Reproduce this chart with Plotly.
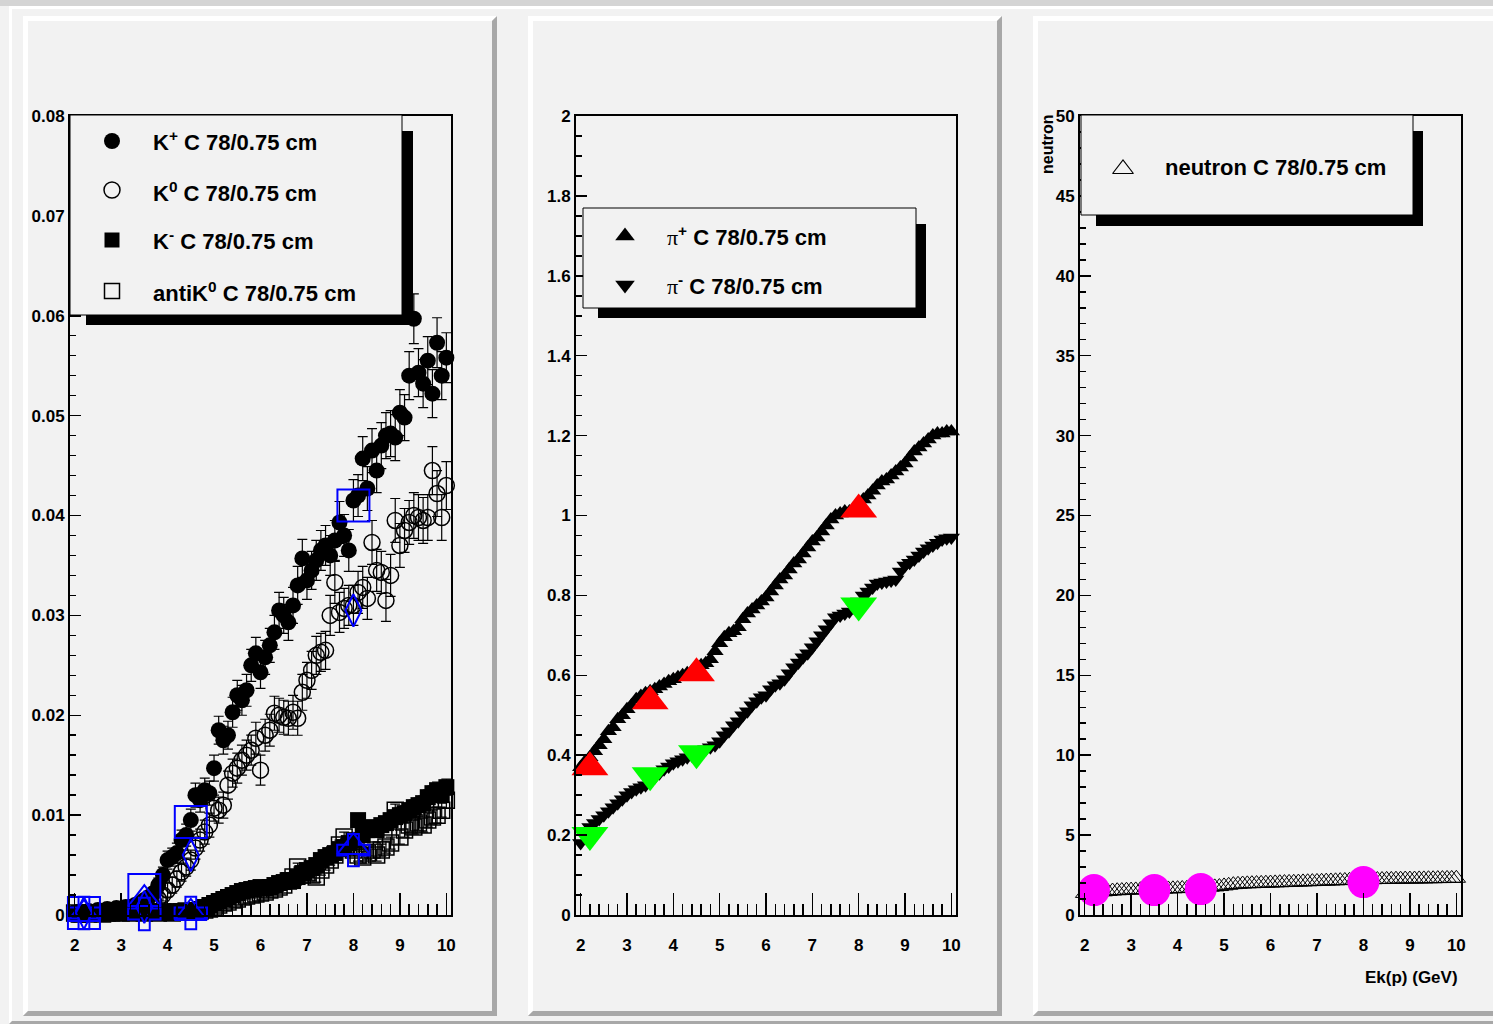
import plotly.graph_objects as go

W, H = 1493, 1024

# ---------------- data ----------------
x_bins = [2.0, 2.1, 2.2, 2.3, 2.4, 2.5, 2.6, 2.7, 2.8, 2.9,
          3.0, 3.1, 3.2, 3.3, 3.4, 3.5, 3.6, 3.7, 3.8, 3.9,
          4.0, 4.1, 4.2, 4.3, 4.4, 4.5, 4.6, 4.7, 4.8, 4.9,
          5.0, 5.1, 5.2, 5.3, 5.4, 5.5, 5.6, 5.7, 5.8, 5.9,
          6.0, 6.1, 6.2, 6.3, 6.4, 6.5, 6.6, 6.7, 6.8, 6.9,
          7.0, 7.1, 7.2, 7.3, 7.4, 7.5, 7.6, 7.7, 7.8, 7.9,
          8.0, 8.1, 8.2, 8.3, 8.4, 8.5, 8.6, 8.7, 8.8, 8.9,
          9.0, 9.1, 9.2, 9.3, 9.4, 9.5, 9.6, 9.7, 9.8, 9.9,
          10.0]

kplus = [0.0002, 0.0003, 0.0002, 0.0004, 0.0003, 0.0005, 0.0004, 0.0006, 0.0005, 0.0007,
         0.0006, 0.0008, 0.0008, 0.0010, 0.0012, 0.0015, 0.0018, 0.0022, 0.0030, 0.0040,
         0.0055, 0.0058, 0.0062, 0.0075, 0.0080, 0.0095, 0.0120, 0.0115, 0.0125, 0.0122,
         0.0147, 0.0185, 0.0175, 0.0180, 0.0203, 0.0220, 0.0215, 0.0225, 0.0250, 0.0262,
         0.0243, 0.0258, 0.0270, 0.0283, 0.0305, 0.0300, 0.0293, 0.0310, 0.0330, 0.0357,
         0.0335, 0.0345, 0.0355, 0.0365, 0.0370, 0.0360, 0.0375, 0.0393, 0.0380, 0.0365,
         0.0415, 0.0420, 0.0457, 0.0427, 0.0465, 0.0445, 0.0470, 0.0480, 0.0482, 0.0478,
         0.0503, 0.0498, 0.0540, 0.0597, 0.0543, 0.0532, 0.0555, 0.0522, 0.0573, 0.0540,
         0.0558]
kplus_err = [0.0003, 0.0003, 0.0003, 0.0003, 0.0003, 0.0003, 0.0003, 0.0003, 0.0003, 0.0003,
             0.0003, 0.0003, 0.0003, 0.0004, 0.0004, 0.0005, 0.0005, 0.0006, 0.0007, 0.0008,
             0.0009, 0.0009, 0.0010, 0.0010, 0.0011, 0.0011, 0.0012, 0.0012, 0.0012, 0.0012,
             0.0013, 0.0014, 0.0014, 0.0014, 0.0015, 0.0015, 0.0015, 0.0016, 0.0016, 0.0016,
             0.0016, 0.0017, 0.0017, 0.0017, 0.0018, 0.0018, 0.0018, 0.0018, 0.0019, 0.0019,
             0.0019, 0.0019, 0.0020, 0.0020, 0.0020, 0.0020, 0.0020, 0.0021, 0.0021, 0.0021,
             0.0021, 0.0021, 0.0022, 0.0022, 0.0022, 0.0022, 0.0023, 0.0023, 0.0023, 0.0023,
             0.0023, 0.0023, 0.0024, 0.0025, 0.0024, 0.0024, 0.0024, 0.0024, 0.0025, 0.0024,
             0.0025]

k0 = [0.0001, 0.0002, 0.0001, 0.0002, 0.0002, 0.0003, 0.0002, 0.0003, 0.0003, 0.0004,
      0.0003, 0.0004, 0.0005, 0.0006, 0.0007, 0.0009, 0.0011, 0.0013, 0.0016, 0.0020,
      0.0025, 0.0030, 0.0036, 0.0043, 0.0048, 0.0055, 0.0067, 0.0075, 0.0083, 0.0090,
      0.0107, 0.0105, 0.0110, 0.0130, 0.0142, 0.0147, 0.0155, 0.0160, 0.0165, 0.0177,
      0.0145, 0.0180, 0.0185, 0.0202, 0.0200, 0.0198, 0.0197, 0.0203, 0.0197, 0.0223,
      0.0235, 0.0245, 0.0260, 0.0263, 0.0265, 0.0300, 0.0333, 0.0303, 0.0307, 0.0310,
      0.0310, 0.0323, 0.0328, 0.0317, 0.0373, 0.0345, 0.0343, 0.0315, 0.0340, 0.0395,
      0.0370, 0.0385, 0.0393, 0.0400, 0.0398, 0.0395, 0.0398, 0.0445, 0.0422, 0.0398,
      0.0430]
k0_err = [0.0003, 0.0003, 0.0003, 0.0003, 0.0003, 0.0003, 0.0003, 0.0003, 0.0003, 0.0003,
          0.0003, 0.0003, 0.0003, 0.0004, 0.0004, 0.0004, 0.0005, 0.0005, 0.0006, 0.0006,
          0.0007, 0.0008, 0.0008, 0.0009, 0.0009, 0.0010, 0.0011, 0.0011, 0.0012, 0.0012,
          0.0013, 0.0013, 0.0013, 0.0014, 0.0014, 0.0015, 0.0015, 0.0015, 0.0015, 0.0016,
          0.0015, 0.0016, 0.0016, 0.0017, 0.0017, 0.0017, 0.0017, 0.0017, 0.0017, 0.0018,
          0.0018, 0.0019, 0.0019, 0.0019, 0.0019, 0.0020, 0.0021, 0.0020, 0.0020, 0.0020,
          0.0020, 0.0021, 0.0021, 0.0021, 0.0022, 0.0021, 0.0021, 0.0021, 0.0021, 0.0022,
          0.0022, 0.0022, 0.0022, 0.0023, 0.0023, 0.0023, 0.0023, 0.0024, 0.0023, 0.0023,
          0.0024]

kminus = [0.0001, 0.0002, 0.0001, 0.0002, 0.0002, 0.0001, 0.0002, 0.0002, 0.0003, 0.0002,
          0.0002, 0.0003, 0.0002, 0.0003, 0.0003, 0.0002, 0.0003, 0.0003, 0.0003, 0.0002,
          0.0003, 0.0003, 0.0003, 0.0004, 0.0003, 0.0004, 0.0005, 0.0006, 0.0008, 0.0010,
          0.0012, 0.0014, 0.0016, 0.0018, 0.0020, 0.0022, 0.0024, 0.0025, 0.0026, 0.0027,
          0.0028, 0.0027, 0.0028, 0.0030, 0.0032, 0.0033, 0.0035, 0.0034, 0.0038, 0.0042,
          0.0045, 0.0047, 0.0050, 0.0055, 0.0058, 0.0060, 0.0062, 0.0066, 0.0068, 0.0072,
          0.0075, 0.0095, 0.0080, 0.0085, 0.0088, 0.0085, 0.0090, 0.0092, 0.0095, 0.0098,
          0.0100, 0.0102, 0.0105, 0.0108, 0.0110, 0.0112, 0.0118, 0.0122, 0.0125, 0.0120,
          0.0128]
kminus_err = [0.0002, 0.0002, 0.0002, 0.0002, 0.0002, 0.0002, 0.0002, 0.0002, 0.0002, 0.0002,
              0.0002, 0.0002, 0.0002, 0.0002, 0.0002, 0.0002, 0.0002, 0.0002, 0.0002, 0.0002,
              0.0002, 0.0002, 0.0002, 0.0002, 0.0002, 0.0002, 0.0002, 0.0002, 0.0003, 0.0003,
              0.0003, 0.0003, 0.0003, 0.0003, 0.0003, 0.0003, 0.0003, 0.0003, 0.0003, 0.0003,
              0.0004, 0.0004, 0.0004, 0.0004, 0.0004, 0.0004, 0.0004, 0.0004, 0.0004, 0.0004,
              0.0005, 0.0005, 0.0005, 0.0005, 0.0005, 0.0005, 0.0005, 0.0005, 0.0005, 0.0005,
              0.0006, 0.0006, 0.0006, 0.0006, 0.0006, 0.0006, 0.0006, 0.0006, 0.0006, 0.0006,
              0.0007, 0.0007, 0.0007, 0.0007, 0.0007, 0.0007, 0.0007, 0.0007, 0.0008, 0.0007,
              0.0008]

antik0 = [0.0002, 0.0001, 0.0002, 0.0001, 0.0002, 0.0002, 0.0001, 0.0002, 0.0002, 0.0003,
          0.0002, 0.0003, 0.0002, 0.0003, 0.0003, 0.0002, 0.0003, 0.0003, 0.0002, 0.0003,
          0.0003, 0.0002, 0.0003, 0.0003, 0.0004, 0.0003, 0.0004, 0.0004, 0.0005, 0.0006,
          0.0008, 0.0010, 0.0012, 0.0013, 0.0015, 0.0016, 0.0018, 0.0019, 0.0020, 0.0021,
          0.0022, 0.0023, 0.0025, 0.0026, 0.0028, 0.0030, 0.0034, 0.0038, 0.0048, 0.0040,
          0.0042, 0.0040, 0.0038, 0.0045, 0.0050, 0.0055, 0.0060, 0.0070, 0.0078, 0.0068,
          0.0065, 0.0060, 0.0058, 0.0062, 0.0065, 0.0060, 0.0065, 0.0068, 0.0072, 0.0105,
          0.0078, 0.0085, 0.0090, 0.0088, 0.0092, 0.0090, 0.0095, 0.0098, 0.0100, 0.0105,
          0.0115]

# blue reference points (panel 1)
exp_x = [2.2, 3.5, 4.5, 8.0]
exp_kplus = [0.0002, 0.0025, 0.0093, 0.0410]
exp_k0 = [0.0002, 0.0008, 0.0060, 0.0305]
exp_kminus = [0.0001, 0.0016, 0.0002, 0.0068]
exp_antik0 = [0.0002, 0.0001, 0.0002, 0.0065]

piplus = [0.370, 0.385, 0.395, 0.410, 0.425, 0.440, 0.460, 0.470, 0.490, 0.500,
          0.515, 0.525, 0.540, 0.548, 0.555, 0.560, 0.565, 0.572, 0.578, 0.585,
          0.590, 0.595, 0.600, 0.605, 0.610, 0.615, 0.625, 0.630, 0.640, 0.660,
          0.680, 0.695, 0.705, 0.710, 0.720, 0.740, 0.755, 0.765, 0.775, 0.785,
          0.795, 0.810, 0.825, 0.840, 0.850, 0.865, 0.880, 0.890, 0.905, 0.920,
          0.935, 0.945, 0.960, 0.975, 0.990, 1.000, 1.005, 1.010, 1.010, 1.015,
          1.025, 1.040, 1.050, 1.062, 1.075, 1.085, 1.090, 1.100, 1.110, 1.120,
          1.130, 1.145, 1.160, 1.170, 1.180, 1.190, 1.200, 1.205, 1.205, 1.210,
          1.210]
piminus = [0.180, 0.200, 0.220, 0.230, 0.240, 0.250, 0.260, 0.270, 0.280, 0.290,
           0.300, 0.308, 0.315, 0.320, 0.325, 0.335, 0.345, 0.355, 0.365, 0.372,
           0.380, 0.385, 0.390, 0.395, 0.400, 0.405, 0.410, 0.415, 0.420, 0.425,
           0.435, 0.450, 0.460, 0.475, 0.485, 0.500, 0.510, 0.525, 0.535, 0.545,
           0.550, 0.565, 0.575, 0.580, 0.590, 0.605, 0.620, 0.632, 0.645, 0.655,
           0.670, 0.685, 0.700, 0.715, 0.730, 0.745, 0.750, 0.755, 0.760, 0.770,
           0.785, 0.800, 0.810, 0.820, 0.830, 0.832, 0.835, 0.837, 0.840, 0.860,
           0.875, 0.882, 0.890, 0.900, 0.910, 0.918, 0.925, 0.932, 0.940, 0.943,
           0.945]
exp_piplus = [0.370, 0.535, 0.605, 1.015]
exp_piminus = [0.200, 0.350, 0.405, 0.775]

neutron = [1.35, 1.38, 1.40, 1.42, 1.45, 1.47, 1.50, 1.52, 1.53, 1.55,
           1.56, 1.57, 1.58, 1.59, 1.60, 1.60, 1.61, 1.62, 1.63, 1.64,
           1.65, 1.66, 1.67, 1.68, 1.69, 1.70, 1.72, 1.74, 1.76, 1.78,
           1.82, 1.86, 1.90, 1.92, 1.94, 1.95, 1.96, 1.97, 1.98, 1.99,
           2.00, 2.01, 2.02, 2.03, 2.04, 2.05, 2.06, 2.07, 2.08, 2.09,
           2.10, 2.11, 2.12, 2.13, 2.14, 2.15, 2.16, 2.17, 2.18, 2.19,
           2.20, 2.20, 2.21, 2.22, 2.22, 2.23, 2.23, 2.24, 2.24, 2.25,
           2.25, 2.25, 2.26, 2.26, 2.27, 2.27, 2.28, 2.28, 2.29, 2.29,
           2.30]
exp_neutron = [1.56, 1.56, 1.62, 2.06]

x_ticks = [2, 3, 4, 5, 6, 7, 8, 9, 10]
x_ticklabels = ["2", "3", "4", "5", "6", "7", "8", "9", "10"]
y1_ticks = [0, 0.01, 0.02, 0.03, 0.04, 0.05, 0.06, 0.07, 0.08]
y1_ticklabels = ["0", "0.01", "0.02", "0.03", "0.04", "0.05", "0.06", "0.07", "0.08"]
y2_ticks = [0, 0.2, 0.4, 0.6, 0.8, 1.0, 1.2, 1.4, 1.6, 1.8, 2.0]
y2_ticklabels = ["0", "0.2", "0.4", "0.6", "0.8", "1", "1.2", "1.4", "1.6", "1.8", "2"]
y3_ticks = [0, 5, 10, 15, 20, 25, 30, 35, 40, 45, 50]
y3_ticklabels = ["0", "5", "10", "15", "20", "25", "30", "35", "40", "45", "50"]

# ---------------- figure ----------------
BG = "#f2f2f2"
FONT = "Liberation Sans"
fig = go.Figure()


def add(trace):
    trace.update(cliponaxis=False, hoverinfo="skip", showlegend=False)
    fig.add_trace(trace)


def err(arr):
    return dict(type="data", array=arr, visible=True, color="black", thickness=1.2, width=5)


# panel 1
add(go.Scatter(x=x_bins, y=kplus, mode="markers", xaxis="x", yaxis="y", error_y=err(kplus_err),
               marker=dict(symbol="circle", size=16, color="black", line=dict(width=0))))
add(go.Scatter(x=x_bins, y=k0, mode="markers", xaxis="x", yaxis="y", error_y=err(k0_err),
               marker=dict(symbol="circle-open", size=16, color="black", line=dict(width=1.5, color="black"))))
add(go.Scatter(x=x_bins, y=kminus, mode="markers", xaxis="x", yaxis="y", error_y=err(kminus_err),
               marker=dict(symbol="square", size=16, color="black", line=dict(width=0))))
add(go.Scatter(x=x_bins, y=antik0, mode="markers", xaxis="x", yaxis="y", error_y=err(kminus_err),
               marker=dict(symbol="square-open", size=16, color="black", line=dict(width=1.5, color="black"))))
BLUE = "#0000ff"
add(go.Scatter(x=exp_x, y=exp_kplus, mode="markers", xaxis="x", yaxis="y",
               marker=dict(symbol="square-open", size=32, color=BLUE, line=dict(width=2, color=BLUE))))
add(go.Scatter(x=exp_x, y=exp_k0, mode="markers", xaxis="x", yaxis="y",
               marker=dict(symbol="diamond-tall-open", size=23, color=BLUE, line=dict(width=2, color=BLUE))))
add(go.Scatter(x=exp_x, y=exp_kminus, mode="markers", xaxis="x", yaxis="y",
               marker=dict(symbol="triangle-up-open", size=28, color=BLUE, line=dict(width=2, color=BLUE))))
add(go.Scatter(x=exp_x, y=exp_antik0, mode="markers", xaxis="x", yaxis="y",
               marker=dict(symbol="cross-open", size=27, color=BLUE, line=dict(width=2, color=BLUE))))

# panel 2
add(go.Scatter(x=x_bins, y=piplus, mode="markers", xaxis="x2", yaxis="y2",
               marker=dict(symbol="triangle-up", size=15, color="black", line=dict(width=0))))
add(go.Scatter(x=x_bins, y=piminus, mode="markers", xaxis="x2", yaxis="y2",
               marker=dict(symbol="triangle-down", size=15, color="black", line=dict(width=0))))
add(go.Scatter(x=exp_x, y=exp_piplus, mode="markers", xaxis="x2", yaxis="y2",
               marker=dict(symbol="triangle-up", size=32, color="#ff0000", line=dict(width=0))))
add(go.Scatter(x=exp_x, y=exp_piminus, mode="markers", xaxis="x2", yaxis="y2",
               marker=dict(symbol="triangle-down", size=32, color="#00ff00", line=dict(width=0))))

# panel 3
add(go.Scatter(x=x_bins, y=neutron, mode="markers", xaxis="x3", yaxis="y3",
               marker=dict(symbol="triangle-up-open", size=16, color="black", line=dict(width=1, color="black"))))
add(go.Scatter(x=exp_x, y=exp_neutron, mode="markers", xaxis="x3", yaxis="y3",
               marker=dict(symbol="circle", size=32, color="#ff00ff", line=dict(width=0))))


# ---------------- legends (overlay pixel axes x4/y4) ----------------
def box(L, T, R, B, fill, line_w):
    add(go.Scatter(x=[L, R, R, L, L], y=[T, T, B, B, T], mode="lines", fill="toself",
                   fillcolor=fill, line=dict(color="black", width=line_w), xaxis="x4", yaxis="y4"))


legend_boxes = [
    ((86, 131, 413, 325), (70, 115, 402, 315)),
    ((598, 224, 926, 318), (583, 208, 916, 308)),
    ((1096, 131, 1423, 226), (1081, 115, 1413, 215)),
]
for shadow, b in legend_boxes:
    box(*shadow, "black", 0)
    box(*b, BG, 1)

legend_marks = [
    (112, 141, "circle", 16, 0), (112, 190, "circle-open", 16, 1.5),
    (112, 240, "square", 15, 0), (112, 291, "square-open", 15, 1.5),
    (625, 236, "triangle-up", 17, 0), (625, 285, "triangle-down", 17, 0),
    (1123, 169, "triangle-up-open", 18, 1.2),
]
for mx, my, sym, sz, lw in legend_marks:
    add(go.Scatter(x=[mx], y=[my], mode="markers", xaxis="x4", yaxis="y4",
                   marker=dict(symbol=sym, size=sz, color="black", line=dict(width=lw, color="black"))))

annotations = []


def text(x, y, s, size=22, xanchor="left", angle=0, yanchor="middle"):
    annotations.append(dict(x=x, y=y, xref="x4", yref="y4", text=s, showarrow=False,
                            xanchor=xanchor, yanchor=yanchor, textangle=angle,
                            font=dict(family=FONT, size=size, color="black", weight="bold")))


PI = '<span style="font-family:Liberation Serif;font-weight:normal">\u03c0</span>'
text(151, 141, "K<sup>+</sup> C 78/0.75 cm")
text(151, 192, "K<sup>0</sup> C 78/0.75 cm")
text(151, 240, "K<sup>-</sup> C 78/0.75 cm")
text(151, 292, "antiK<sup>0</sup> C 78/0.75 cm")
text(665, 236, PI + "<sup>+</sup> C 78/0.75 cm")
text(665, 285, PI + "<sup>-</sup> C 78/0.75 cm")
text(1163, 167, "neutron C 78/0.75 cm")
text(1460, 977, "Ek(p) (GeV)", size=17, xanchor="right")
text(1047, 112, "neutron", size=16, xanchor="center", angle=-90, yanchor="top")


# ---------------- canvas / pads ----------------
def X(x):
    return x / W


def Y(y):
    return 1 - y / H


def path(pts):
    return "M" + " L".join(f"{X(a):.5f},{Y(b):.5f}" for a, b in pts) + " Z"


shapes = []
shapes.append(dict(type="rect", xref="paper", yref="paper", x0=0, x1=1, y0=Y(6), y1=1,
                   fillcolor="#d4d4d4", line=dict(width=0), layer="below"))


def bevel(L, T, R, B, w, light="#ffffff", dark="#a8a8a8"):
    shapes.append(dict(type="path", xref="paper", yref="paper", layer="below",
                       path=path([(L, B), (L, T), (R, T), (R - w, T + w), (L + w, T + w), (L + w, B - w)]),
                       fillcolor=light, line=dict(width=0)))
    shapes.append(dict(type="path", xref="paper", yref="paper", layer="below",
                       path=path([(R, T), (R, B), (L, B), (L + w, B - w), (R - w, B - w), (R - w, T + w)]),
                       fillcolor=dark, line=dict(width=0)))


bevel(9, 6, 1520, 1024, 3)
for L, R in [(23, 497), (528, 1002), (1033, 1520)]:
    bevel(L, 16, R, 1016, 5)


# ---------------- axes ----------------
def xaxis(dom, anchor):
    return dict(domain=[X(dom[0]), X(dom[1])], range=[1.9, 10.1], tickmode="array",
                tickvals=x_ticks, ticktext=x_ticklabels, ticks="inside", ticklen=22, tickwidth=1.5,
                tickcolor="black", anchor=anchor, automargin=False,
                minor=dict(tickmode="linear", tick0=2, dtick=0.2, ticks="inside", ticklen=11,
                           tickwidth=1.5, tickcolor="black", showgrid=False),
                showline=True, linecolor="black", linewidth=2, mirror=True, showgrid=False,
                zeroline=False, ticklabelstandoff=14, fixedrange=True,
                tickfont=dict(family=FONT, size=17, color="black", weight="bold"))


def yaxis(rng, tv, tt, mdt, anchor):
    return dict(domain=[Y(915), Y(116)], range=rng, tickmode="array", tickvals=tv, ticktext=tt,
                ticks="inside", ticklen=11, tickwidth=1.5, tickcolor="black", automargin=False,
                minor=dict(tickmode="linear", tick0=0, dtick=mdt, ticks="inside", ticklen=5.5,
                           tickwidth=1.5, tickcolor="black", showgrid=False),
                showline=True, linecolor="black", linewidth=2, mirror=True, showgrid=False,
                zeroline=False, ticklabelstandoff=0, fixedrange=True, anchor=anchor,
                tickfont=dict(family=FONT, size=17, color="black", weight="bold"))


fig.update_layout(
    template="none",
    width=W, height=H, autosize=False, margin=dict(l=0, r=0, t=0, b=0, pad=0),
    paper_bgcolor=BG, plot_bgcolor="rgba(0,0,0,0)",
    showlegend=False, shapes=shapes, annotations=annotations,
    xaxis=xaxis((70, 451), "y"),
    yaxis=yaxis([0, 0.08], y1_ticks, y1_ticklabels, 0.002, "x"),
    xaxis2=xaxis((576, 956), "y2"),
    yaxis2=yaxis([0, 2], y2_ticks, y2_ticklabels, 0.05, "x2"),
    xaxis3=xaxis((1080, 1461), "y3"),
    yaxis3=yaxis([0, 50], y3_ticks, y3_ticklabels, 1, "x3"),
    xaxis4=dict(domain=[0, 1], range=[0, W], visible=False, fixedrange=True, anchor="y4", automargin=False),
    yaxis4=dict(domain=[0, 1], range=[H, 0], visible=False, fixedrange=True, anchor="x4", automargin=False),
)

fig.write_html("out.html", config={"displayModeBar": False, "staticPlot": True, "responsive": False},
               post_script="document.body.style.margin='0';document.documentElement.style.overflow='hidden';")
